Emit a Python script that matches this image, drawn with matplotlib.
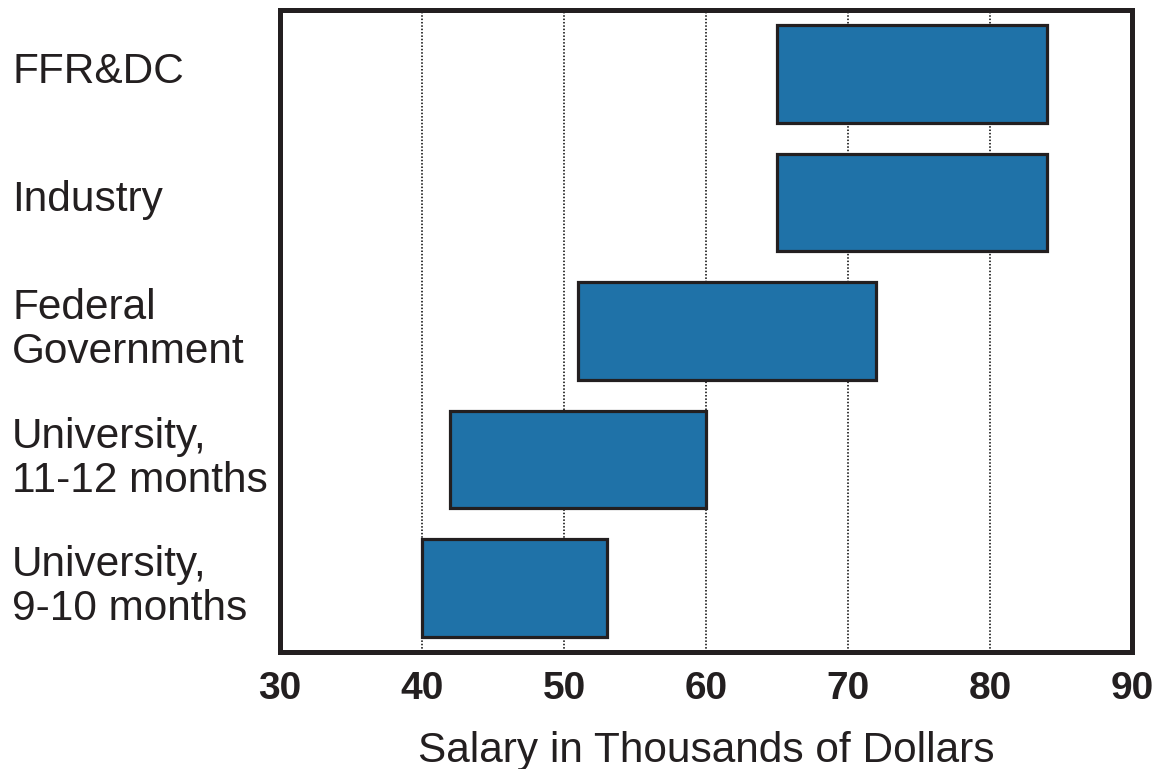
import matplotlib
matplotlib.use('Agg')
import matplotlib.pyplot as plt
import matplotlib.transforms as mtransforms

# salary ranges (thousands of dollars)
groups = ['FFR&DC', 'Industry', 'Federal\nGovernment',
          'University,\n11-12 months', 'University,\n9-10 months']
low = [65, 65, 51, 42, 40]
high = [84, 84, 72, 60, 53]
xticks = [30, 40, 50, 60, 70, 80, 90]

plt.rcParams['font.family'] = ['Liberation Sans', 'DejaVu Sans']

fig = plt.figure(figsize=(11.56, 7.69), dpi=100)
ax = fig.add_axes([280/1156, 1-652/769, 852/1156, 642/769])

ypos = list(range(len(groups)))
widths = [h - l for l, h in zip(low, high)]
ax.barh(ypos, widths, left=low, height=0.76, color='#1f72a8',
        edgecolor='#231f20', linewidth=2.3, zorder=3)

ax.set_xlim(30, 90)
ax.set_ylim(len(groups) - 0.5, -0.5)
ax.set_xticks(xticks)
ax.set_xticklabels([str(t) for t in xticks], fontsize=28, fontweight='bold',
                   color='#231f20')
ax.set_yticks(ypos)
ax.set_yticklabels(groups, fontsize=30.5, color='#231f20', ha='left',
                   linespacing=1.12)
ax.tick_params(axis='x', length=0, pad=14)
ax.tick_params(axis='y', length=0, pad=268*72/100)

# nudge the category labels up a little
shift = mtransforms.ScaledTranslation(0, 7/100, fig.dpi_scale_trans)
for lab in ax.get_yticklabels():
    lab.set_transform(lab.get_transform() + shift)

ax.grid(axis='x', color='black', linestyle=(0, (1, 1.2)), linewidth=1.1, zorder=0)
ax.set_axisbelow(True)
for s in ax.spines.values():
    s.set_linewidth(3.6)
    s.set_color('#231f20')

ax.set_xlabel('Salary in Thousands of Dollars', fontsize=30.5, color='#231f20',
              labelpad=17)

fig.savefig('out.png', dpi=100)
